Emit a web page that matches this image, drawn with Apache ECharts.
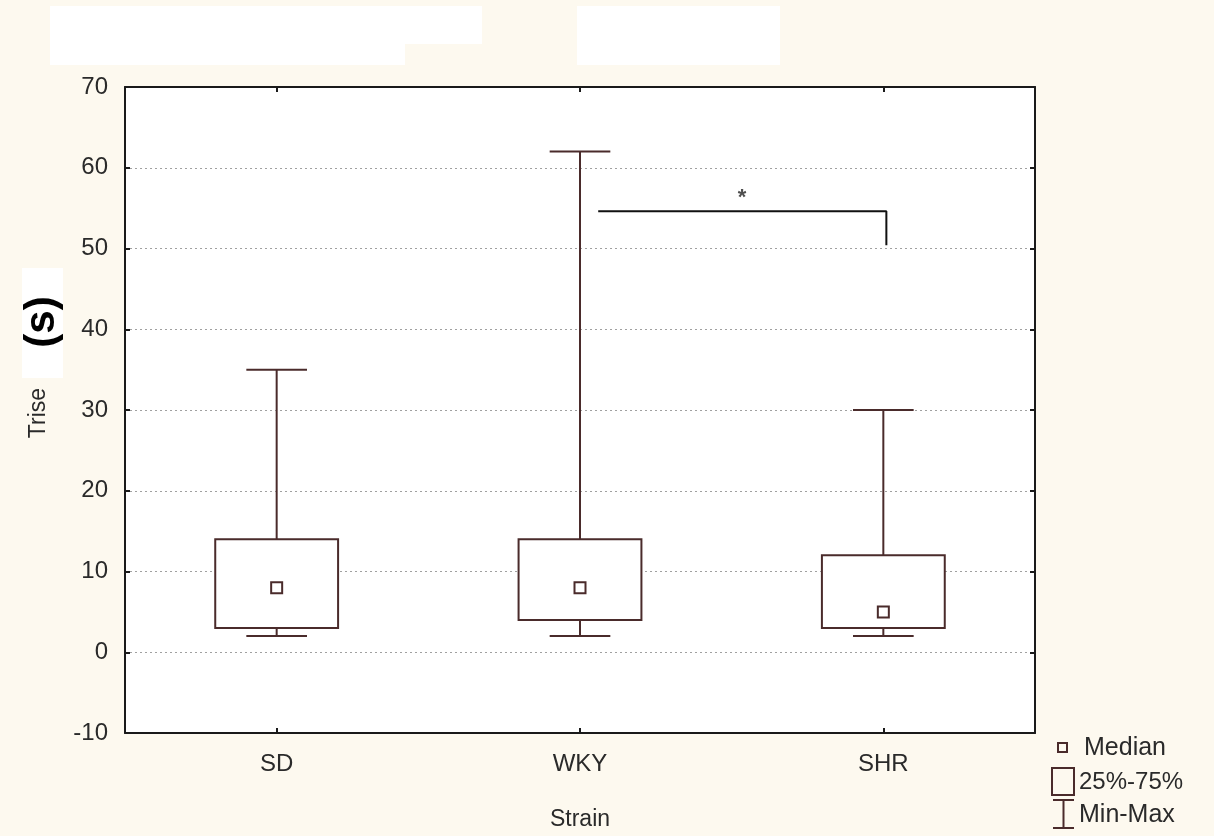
<!DOCTYPE html>
<html>
<head>
<meta charset="utf-8">
<title>Trise by Strain</title>
<script src="https://cdn.jsdelivr.net/npm/echarts@6/dist/echarts.min.js"></script>
<style>
  html, body { margin: 0; padding: 0; background: #fdf9ef; }
  #chart { width: 1214px; height: 836px; }
</style>
</head>
<body>
<div id="chart"></div>
<script>
// Box-plot summary of Trise (s) per rat strain
const strains = ['SD', 'WKY', 'SHR'];
const minVals = [2, 2, 2];
const q1Vals = [3, 4, 3];
const medianVals = [8, 8, 5];
const q3Vals = [14, 14, 12];
const maxVals = [35, 62, 30];

// Significance bracket between WKY and SHR (x on a 0..3 helper scale)
const bracketX = [1.56, 2.51, 2.51];
const bracketY = [54.6, 54.6, 50.4];
const starPos = [2.034, 56.2];

const BROWN = '#4a2b2b';
const FONT = '"Liberation Sans", Arial, sans-serif';

const boxData = strains.map((s, i) => [i, minVals[i], q1Vals[i], medianVals[i], q3Vals[i], maxVals[i]]);

function renderBox(params, api) {
  const idx = api.value(0);
  const pMin = api.coord([idx, api.value(1)]);
  const pQ1 = api.coord([idx, api.value(2)]);
  const pMed = api.coord([idx, api.value(3)]);
  const pQ3 = api.coord([idx, api.value(4)]);
  const pMax = api.coord([idx, api.value(5)]);
  const band = api.size([1, 0])[0];
  const boxW = band * 0.405;
  const capW = band * 0.2;
  const med = 11;
  const cx = pMed[0];
  const ls = { stroke: BROWN, lineWidth: 2, fill: null };
  return {
    type: 'group',
    children: [
      { type: 'line', shape: { x1: cx, y1: pQ3[1], x2: cx, y2: pMax[1] }, style: ls },
      { type: 'line', shape: { x1: cx - capW / 2, y1: pMax[1], x2: cx + capW / 2, y2: pMax[1] }, style: ls },
      { type: 'line', shape: { x1: cx, y1: pQ1[1], x2: cx, y2: pMin[1] }, style: ls },
      { type: 'line', shape: { x1: cx - capW / 2, y1: pMin[1], x2: cx + capW / 2, y2: pMin[1] }, style: ls },
      { type: 'rect', shape: { x: cx - boxW / 2, y: pQ3[1], width: boxW, height: pQ1[1] - pQ3[1] },
        style: { stroke: BROWN, lineWidth: 2, fill: '#ffffff' } },
      { type: 'rect', shape: { x: cx - med / 2, y: pMed[1] - med / 2, width: med, height: med },
        style: { stroke: BROWN, lineWidth: 2, fill: '#ffffff' } }
    ]
  };
}

const chart = echarts.init(document.getElementById('chart'), null, { renderer: 'canvas' });

const axisLineStyle = { color: '#1a1a1a', width: 2 };
const tickStyle = { show: true, inside: true, length: 5, lineStyle: { color: '#1a1a1a', width: 2 } };

chart.setOption({
  backgroundColor: '#fdf9ef',
  animation: false,
  grid: { left: 125, right: 179, top: 87, bottom: 99, show: true, backgroundColor: '#ffffff', borderWidth: 0 },
  xAxis: [
    {
      type: 'category', data: strains, position: 'bottom',
      axisLine: { show: true, onZero: false, lineStyle: axisLineStyle },
      axisTick: Object.assign({ alignWithLabel: true }, tickStyle),
      axisLabel: { color: '#2a2a2a', fontSize: 24, fontFamily: FONT, margin: 19 },
      name: 'Strain', nameLocation: 'middle', nameGap: 75,
      nameTextStyle: { color: '#2a2a2a', fontSize: 23, fontFamily: FONT },
      splitLine: { show: false }
    },
    {
      type: 'category', data: strains, position: 'top',
      axisLine: { show: true, onZero: false, lineStyle: axisLineStyle },
      axisTick: Object.assign({ alignWithLabel: true }, tickStyle),
      axisLabel: { show: false },
      splitLine: { show: false }
    },
    { type: 'value', min: 0, max: 3, show: false }
  ],
  yAxis: [
    {
      type: 'value', min: -10, max: 70, interval: 10, position: 'left',
      axisLine: { show: true, onZero: false, lineStyle: axisLineStyle },
      axisTick: tickStyle,
      axisLabel: { color: '#2a2a2a', fontSize: 24, fontFamily: FONT, margin: 17 },
      splitLine: { show: true, lineStyle: { color: '#a0a0a0', type: [2, 3], width: 1 } }
    },
    {
      type: 'value', min: -10, max: 70, interval: 10, position: 'right',
      axisLine: { show: true, onZero: false, lineStyle: axisLineStyle },
      axisTick: tickStyle,
      axisLabel: { show: false },
      splitLine: { show: false }
    }
  ],
  series: [
    {
      type: 'custom', name: 'Trise', xAxisIndex: 0, yAxisIndex: 0,
      renderItem: renderBox,
      encode: { x: 0, y: [1, 2, 3, 4, 5] },
      data: boxData, z: 5
    },
    {
      type: 'line', xAxisIndex: 2, yAxisIndex: 0,
      data: bracketX.map((x, i) => [x, bracketY[i]]),
      symbol: 'none', lineStyle: { color: '#111111', width: 2 }, z: 6
    },
    {
      type: 'scatter', xAxisIndex: 2, yAxisIndex: 0,
      data: [starPos], symbolSize: 0,
      label: { show: true, formatter: '*', position: 'inside', color: '#222222', fontSize: 22, fontWeight: 'bold', fontFamily: FONT },
      z: 6
    }
  ],
  graphic: [
    // pale patches across the top margin
    { type: 'rect', z: -10, silent: true, shape: { x: 50, y: 6, width: 432, height: 38 }, style: { fill: '#ffffff' } },
    { type: 'rect', z: -10, silent: true, shape: { x: 50, y: 44, width: 355, height: 21 }, style: { fill: '#ffffff' } },
    { type: 'rect', z: -10, silent: true, shape: { x: 577, y: 6, width: 203, height: 59 }, style: { fill: '#ffffff' } },
    // y-axis title
    { type: 'text', rotation: Math.PI / 2, x: 39, y: 413,
      style: { text: 'Trise', fill: '#2a2a2a', fontSize: 23, fontFamily: FONT, align: 'center', verticalAlign: 'middle' } },
    { type: 'rect', shape: { x: 22, y: 268, width: 41, height: 110 }, style: { fill: '#ffffff' } },
    { type: 'text', rotation: Math.PI / 2, x: 42, y: 322,
      style: { text: '(s)', fill: '#000000', fontSize: 42, fontWeight: 'bold', fontFamily: FONT, align: 'center', verticalAlign: 'middle' } },
    // key
    { type: 'rect', shape: { x: 1058, y: 743, width: 9, height: 9 }, style: { stroke: BROWN, lineWidth: 2, fill: null } },
    { type: 'text', x: 1084, y: 748, style: { text: 'Median', fill: '#2a2a2a', fontSize: 25, fontFamily: FONT, verticalAlign: 'middle' } },
    { type: 'rect', shape: { x: 1052, y: 768, width: 22, height: 27 }, style: { stroke: BROWN, lineWidth: 2, fill: null } },
    { type: 'text', x: 1079, y: 782, style: { text: '25%-75%', fill: '#2a2a2a', fontSize: 24, fontFamily: FONT, verticalAlign: 'middle' } },
    { type: 'line', shape: { x1: 1053, y1: 800, x2: 1074, y2: 800 }, style: { stroke: BROWN, lineWidth: 2 } },
    { type: 'line', shape: { x1: 1063.5, y1: 800, x2: 1063.5, y2: 828 }, style: { stroke: BROWN, lineWidth: 2 } },
    { type: 'line', shape: { x1: 1053, y1: 828, x2: 1074, y2: 828 }, style: { stroke: BROWN, lineWidth: 2 } },
    { type: 'text', x: 1079, y: 815, style: { text: 'Min-Max', fill: '#2a2a2a', fontSize: 25, fontFamily: FONT, verticalAlign: 'middle' } }
  ]
});
</script>
</body>
</html>
